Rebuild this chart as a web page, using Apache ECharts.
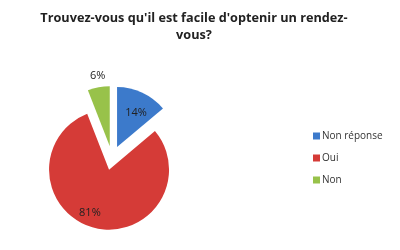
<!DOCTYPE html>
<html><head><meta charset="utf-8">
<script src="https://cdn.jsdelivr.net/npm/echarts@6/dist/echarts.min.js"></script>
<style>html,body{margin:0;padding:0;background:#fff}#c{width:400px;height:250px}</style>
</head><body><div id="c"></div>
<script>
var categories = ['Non réponse', 'Oui', 'Non'];
var values = [14, 81, 6];
var colors = ['#3c7acb', '#d53b37', '#98c24a'];
var labelPositions = ['inside', 'inside', 'outside'];
var labelShifts = [[5, -4], [-11, 11], [12, -9]];

var data = categories.map(function (n, i) {
  return {
    name: n, value: values[i], selected: true,
    itemStyle: {color: colors[i]},
    label: {position: labelPositions[i]}
  };
});

var chart = echarts.init(document.getElementById('c'), null, {renderer: 'canvas'});
chart.setOption({
  animation: false,
  backgroundColor: '#fff',
  title: {
    text: "Trouvez-vous qu'il est facile d'optenir un rendez-\nvous?",
    left: 189, top: 5, textAlign: 'center',
    textStyle: {fontFamily: 'Open Sans', fontWeight: 'bold', fontSize: 12.7, color: '#222', lineHeight: 17}
  },
  legend: {
    orient: 'vertical', left: 308, top: 126,
    itemWidth: 7, itemHeight: 7, itemGap: 12,
    icon: 'rect',
    textStyle: {fontFamily: 'Open Sans', fontSize: 10, color: '#333', padding: [0, 0, 0, -3]},
    data: categories
  },
  series: [{
    type: 'pie',
    center: [112, 158],
    radius: 60,
    startAngle: 90,
    clockwise: true,
    selectedMode: 'multiple',
    selectedOffset: 12,
    label: {
      show: true, formatter: '{c}%',
      fontFamily: 'Open Sans', fontSize: 11, color: '#222'
    },
    labelLine: {show: false, length: 2, length2: 0},
    labelLayout: function (p) {
      var s = labelShifts[p.dataIndex];
      return {dx: s[0], dy: s[1]};
    },
    emphasis: {disabled: true},
    data: data
  }]
});
</script></body></html>
